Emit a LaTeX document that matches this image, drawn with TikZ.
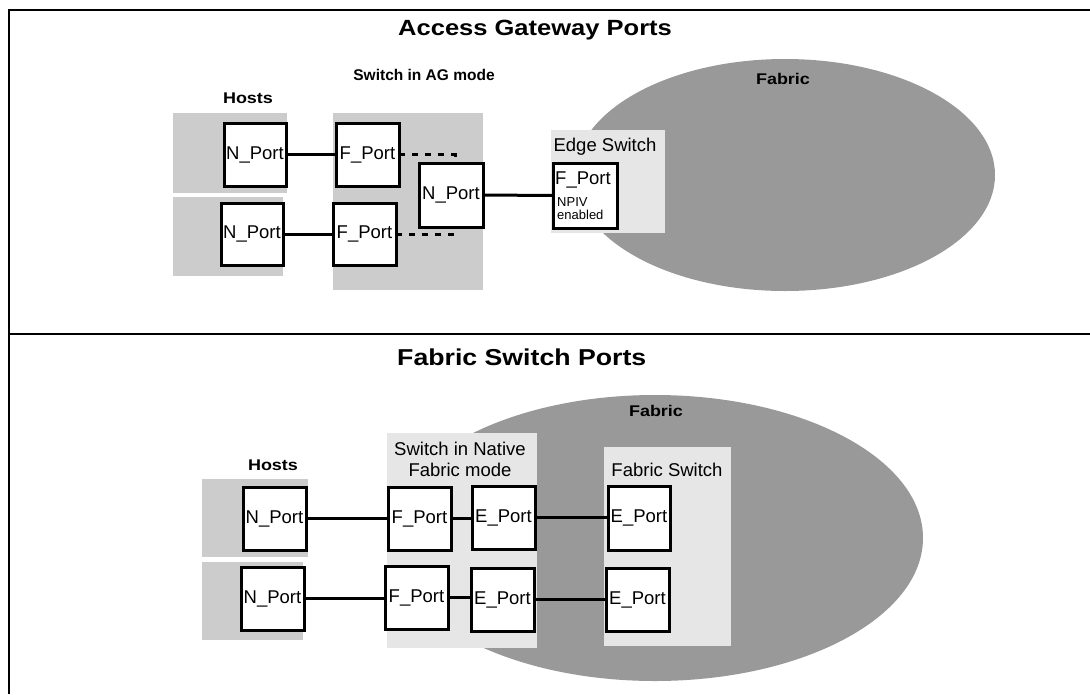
\documentclass[tikz,border=0pt]{standalone}
\usepackage{fontspec}
\setmainfont{Liberation Sans}
\usepackage{graphicx}
\usetikzlibrary{shapes.geometric}
\definecolor{hostgray}{HTML}{CCCCCC}
\definecolor{swgray}{HTML}{E6E6E6}
\definecolor{fabricgray}{HTML}{999999}
\tikzset{
  areabox/.style={fill=#1, draw=none, inner sep=0pt, outer sep=0pt, anchor=north west},
  port/.style={draw=black, line width=3pt, fill=white, inner sep=0pt, outer sep=0pt, anchor=north west, font=\fontsize{18.5}{20}\selectfont},
  wire/.style={line width=3pt},
  dotwire/.style={line width=3pt, dash pattern=on 6pt off 7pt},
  lbl/.style={font=\fontsize{18.5}{21}\selectfont, inner sep=0pt, align=center},
  small/.style={font=\fontsize{13}{13}\selectfont, inner sep=0pt, align=left, anchor=north west},
  blbl/.style={font=\bfseries\fontsize{15.5}{18}\selectfont, inner sep=0pt},
  ttl/.style={font=\bfseries\fontsize{22}{26}\selectfont, inner sep=0pt, anchor=west},
  frame/.style={line width=2.5pt},
  fabric/.style={ellipse, fill=fabricgray, draw=none, inner sep=0pt}
}
\begin{document}
\begin{tikzpicture}[x=1pt,y=-1pt]
\useasboundingbox (0,0) rectangle (1090,694);
% frame
\draw[frame] (1090,10) -- (9,10) -- (9,694);
\draw[frame] (9,334) -- (1090,334);

% ===== Access Gateway Ports =====
\node[ttl] (t1) at (398,30) {\scalebox{1.16}[1]{Access Gateway Ports}};
\node[fabric, minimum width=420pt, minimum height=232pt] (fab1) at (785,175) {};
\node[blbl] (fab1l) at (783,79) {\scalebox{1.16}[1]{Fabric}};
\node[blbl] (hosts1) at (248,98) {\scalebox{1.16}[1]{Hosts}};
\node[blbl] (ag) at (424,75) {Switch in AG mode};

\node[areabox=hostgray, minimum width=114pt, minimum height=80pt] (hA1) at (173,113) {};
\node[areabox=hostgray, minimum width=110pt, minimum height=79pt] (hA2) at (173,197) {};
\node[areabox=hostgray, minimum width=150pt, minimum height=177pt] (agsw) at (333,113) {};
\node[areabox=swgray, minimum width=114pt, minimum height=103pt] (edge) at (551,130) {};
\node[lbl] (edgel) at (605,147) {Edge Switch};

\node[port, minimum width=62pt, minimum height=63pt] (nA1) at (224,123) {N\_Port};
\node[port, minimum width=63pt, minimum height=63pt] (fA1) at (336,123) {F\_Port};
\node[port, minimum width=62pt, minimum height=62pt] (nA2) at (221,203) {N\_Port};
\node[port, minimum width=63pt, minimum height=62pt] (fA2) at (333,203) {F\_Port};
\node[port, minimum width=64pt, minimum height=64pt] (nAG) at (419,163) {N\_Port};
\node[port, minimum width=64pt, minimum height=65pt] (fE) at (553,163) {};
\node[lbl, anchor=north west] (fEl) at (555,172) {F\_Port};
\node[small] (npiv) at (557,197) {NPIV\\enabled};

\draw[wire] (nA1.east) -- (fA1.west);
\draw[wire] (nA2.east) -- (fA2.west);
\draw[dotwire] (fA1.east) -| ([xshift=4pt]nAG.north);
\draw[dotwire] (fA2.east) -| ([xshift=4pt]nAG.south);
\draw[wire] (nAG.east) -- (fE.west);

% ===== Fabric Switch Ports =====
\node[ttl, font=\bfseries\fontsize{23}{26}\selectfont] (t2) at (397,357) {\scalebox{1.16}[1]{Fabric Switch Ports}};
\node[fabric, minimum width=536pt, minimum height=286pt] (fab2) at (655,538) {};
\node[blbl] (fab2l) at (656,411) {\scalebox{1.16}[1]{Fabric}};
\node[blbl] (hosts2) at (273,465) {\scalebox{1.16}[1]{Hosts}};

\node[areabox=hostgray, minimum width=106pt, minimum height=78pt] (hB1) at (202,479) {};
\node[areabox=hostgray, minimum width=101pt, minimum height=78pt] (hB2) at (202,562) {};
\node[areabox=swgray, minimum width=150pt, minimum height=215pt] (nsw) at (387,433) {};
\node[lbl] (nswl) at (460,459) {Switch in Native\\Fabric mode};
\node[areabox=swgray, minimum width=127pt, minimum height=199pt] (fsw) at (604,447) {};
\node[lbl] (fswl) at (667,470) {Fabric Switch};

\node[port, minimum width=63pt, minimum height=63pt] (nB1) at (243,487) {N\_Port};
\node[port, minimum width=63pt, minimum height=63pt] (fB1) at (388,487) {F\_Port};
\node[port, minimum width=63pt, minimum height=63pt] (eB1) at (472,486) {E\_Port};
\node[port, minimum width=62pt, minimum height=64pt] (esB1) at (608,486) {E\_Port};
\node[port, minimum width=63pt, minimum height=63pt] (nB2) at (241,567) {N\_Port};
\node[port, minimum width=63pt, minimum height=63pt] (fB2) at (385,566) {F\_Port};
\node[port, minimum width=63pt, minimum height=63pt] (eB2) at (471,568) {E\_Port};
\node[port, minimum width=63pt, minimum height=63pt] (esB2) at (606,568) {E\_Port};

\draw[wire] (nB1.east) -- (fB1.west);
\draw[wire] (fB1.east) -- (fB1.east -| eB1.west);
\draw[wire] (eB1.east) -- (eB1.east -| esB1.west);
\draw[wire] (nB2.east) -- (nB2.east -| fB2.west);
\draw[wire] (fB2.east) -- (fB2.east -| eB2.west);
\draw[wire] (eB2.east) -- (eB2.east -| esB2.west);
\end{tikzpicture}
\end{document}
